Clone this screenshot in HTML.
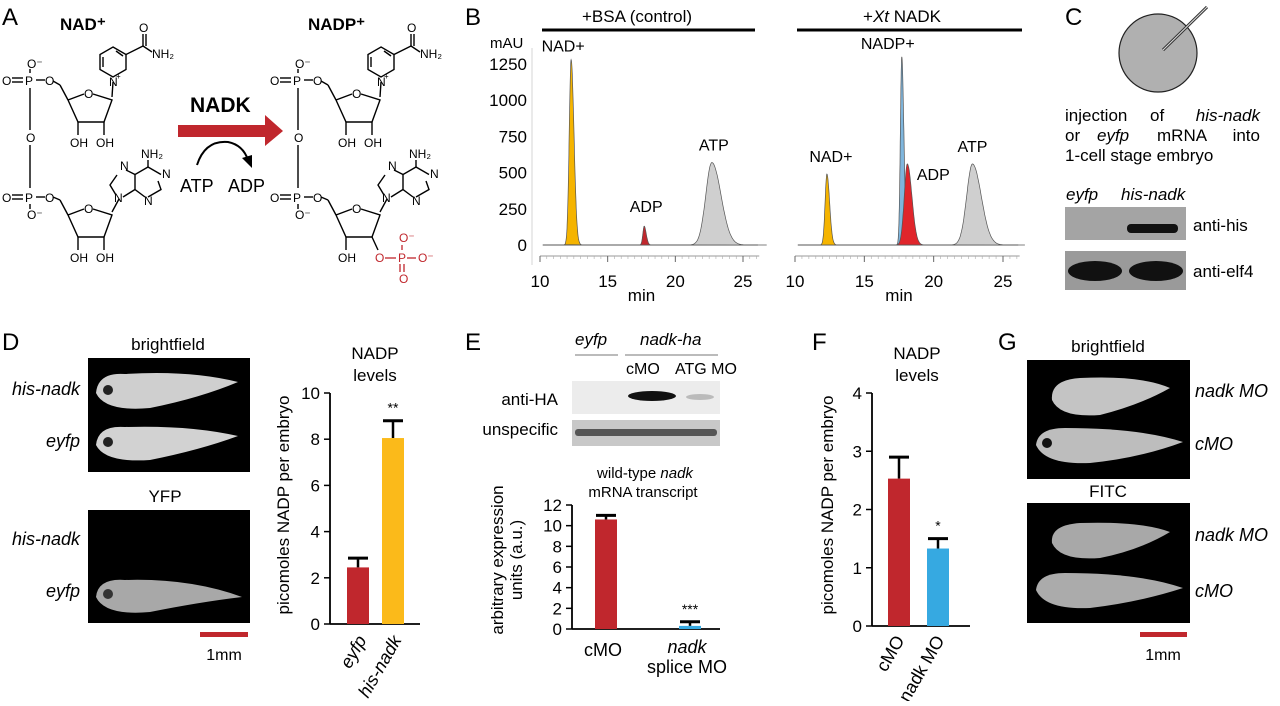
<!DOCTYPE html>
<html><head><meta charset="utf-8">
<style>
body{margin:0;background:#fff;width:1280px;height:701px;overflow:hidden;font-family:"Liberation Sans",sans-serif}
svg text{font-family:"Liberation Sans",sans-serif}
</style></head>
<body>
<svg id="fig" width="1280" height="701" viewBox="0 0 1280 701" xmlns="http://www.w3.org/2000/svg">
<defs>
<g id="molShape" stroke="#000" stroke-width="1.4" fill="none">
<polygon points="113,47 126,54.5 126,69.5 113,77 100,69.5 100,54.5"/>
<line x1="116" y1="51" x2="123" y2="56"/><line x1="103" y1="57" x2="103" y2="67"/>
<line x1="126" y1="54.5" x2="143" y2="46"/><line x1="143" y1="46" x2="143" y2="34"/><line x1="146" y1="46" x2="146" y2="34"/>
<line x1="143" y1="46" x2="152" y2="52"/>
<line x1="113" y1="82" x2="112" y2="97"/>
<polyline points="68,100 84,94"/><polyline points="93,94 112,100 104,122 78,122 68,100"/>
<line x1="78" y1="122" x2="78" y2="135"/><line x1="104" y1="122" x2="104" y2="135"/>
<line x1="68" y1="100" x2="60" y2="85"/><line x1="60" y1="85" x2="53" y2="81"/>
<line x1="36" y1="80" x2="45" y2="80"/>
<line x1="30" y1="69" x2="30" y2="73"/>
<line x1="30" y1="88" x2="30" y2="130"/><line x1="30" y1="145" x2="30" y2="188"/>
<line x1="36" y1="197" x2="45" y2="197"/>
<line x1="30" y1="204" x2="30" y2="209"/>
<line x1="12" y1="78" x2="23" y2="78"/><line x1="12" y1="82" x2="23" y2="82"/>
<line x1="12" y1="195" x2="23" y2="195"/><line x1="12" y1="199" x2="23" y2="199"/>
<polyline points="68,215 84,209"/><polyline points="93,209 112,215 104,237 78,237 68,215"/>
<line x1="78" y1="237" x2="78" y2="250"/>
<line x1="68" y1="215" x2="60" y2="200"/><line x1="60" y1="200" x2="53" y2="197"/>
<polyline points="148,167 161,174.5"/><polyline points="158,181 161,189.5 148,197"/><polyline points="145,197 135,189.5 135,174.5 148,167"/>
<line x1="148" y1="167" x2="148" y2="160"/>
<polyline points="135,174.5 126,170"/><polyline points="117,175 110,185 116,195"/><line x1="123" y1="197" x2="135" y2="189.5"/>
<line x1="119" y1="199" x2="112" y2="212"/>
</g>
</defs>
<!-- Panel labels -->
<g font-size="24" fill="#000">
<text x="2" y="25">A</text><text x="465" y="25">B</text><text x="1065" y="25">C</text>
<text x="2" y="350">D</text><text x="465" y="350">E</text><text x="812" y="350">F</text><text x="998" y="350">G</text>
</g>
<!-- Panel A -->
<g>
<use href="#molShape"/>
<line x1="104" y1="237" x2="104" y2="250" stroke="#000" stroke-width="1.4"/>
<g font-size="12" fill="#000">
<text x="60" y="30" font-size="17" font-weight="bold">NAD⁺</text>
<text x="109" y="86">N</text><text x="116" y="79" font-size="8">+</text>
<text x="139" y="32">O</text><text x="152" y="58">NH₂</text>
<text x="84" y="98">O</text><text x="84" y="213">O</text>
<text x="70" y="147">OH</text><text x="96" y="147">OH</text>
<text x="70" y="262">OH</text><text x="96" y="262">OH</text>
<text x="2" y="85">O</text><text x="25" y="85">P</text><text x="45" y="85">O</text><text x="27" y="68">O⁻</text>
<text x="26" y="142">O</text>
<text x="2" y="202">O</text><text x="25" y="202">P</text><text x="45" y="202">O</text><text x="27" y="219">O⁻</text>
<text x="141" y="158">NH₂</text><text x="162" y="178">N</text><text x="144" y="205">N</text>
<text x="120" y="170">N</text><text x="114" y="202">N</text>
</g>
</g>
<g transform="translate(268,0)">
<use href="#molShape"/>
<line x1="104" y1="237" x2="110" y2="250" stroke="#000" stroke-width="1.4"/>
<g font-size="12" fill="#000">
<text x="40" y="30" font-size="17" font-weight="bold">NADP⁺</text>
<text x="109" y="86">N</text><text x="116" y="79" font-size="8">+</text>
<text x="139" y="32">O</text><text x="152" y="58">NH₂</text>
<text x="84" y="98">O</text><text x="84" y="213">O</text>
<text x="70" y="147">OH</text><text x="96" y="147">OH</text>
<text x="70" y="262">OH</text>
<text x="2" y="85">O</text><text x="25" y="85">P</text><text x="45" y="85">O</text><text x="27" y="68">O⁻</text>
<text x="26" y="142">O</text>
<text x="2" y="202">O</text><text x="25" y="202">P</text><text x="45" y="202">O</text><text x="27" y="219">O⁻</text>
<text x="141" y="158">NH₂</text><text x="162" y="178">N</text><text x="144" y="205">N</text>
<text x="120" y="170">N</text><text x="114" y="202">N</text>
</g>
<g fill="#c0272d" font-size="12">
<text x="107" y="262">O</text><text x="130" y="262">P</text><text x="150" y="262">O⁻</text>
<text x="131" y="242">O⁻</text><text x="131" y="283">O</text>
</g>
<g stroke="#c0272d" stroke-width="1.3">
<line x1="117" y1="258" x2="128" y2="258"/><line x1="139" y1="258" x2="148" y2="258"/>
<line x1="134" y1="245" x2="134" y2="250"/><line x1="132" y1="264" x2="132" y2="272"/><line x1="136" y1="264" x2="136" y2="272"/>
</g>
</g>
<text x="190" y="112" font-size="21" font-weight="bold">NADK</text>
<polygon points="178,125 265,125 265,115 283,131 265,146 265,137 178,137" fill="#c0272d"/>
<path d="M197,165 Q205,140 228,142 Q243,145 248,160" fill="none" stroke="#000" stroke-width="2"/>
<polygon points="242,158 252,168 252,155" fill="#000"/>
<text x="180" y="192" font-size="18">ATP</text>
<text x="228" y="192" font-size="18">ADP</text>

<!-- Panel B headers -->
<g>
<text x="582" y="22" font-size="17">+BSA (control)</text>
<line x1="542" y1="30" x2="755" y2="30" stroke="#000" stroke-width="3"/>
<text x="863" y="22" font-size="17">+<tspan font-style="italic">Xt</tspan> NADK</text>
<line x1="797" y1="30" x2="1022" y2="30" stroke="#000" stroke-width="3"/>
<text x="490" y="48" font-size="15">mAU</text>
</g>
<g id="chromL"></g>
<g id="chromR"></g>

<!-- Panel C -->
<g>
<circle cx="1158" cy="53" r="39" fill="#b0b0b0" stroke="#222" stroke-width="1.2"/>
<line x1="1163" y1="50" x2="1207" y2="7" stroke="#333" stroke-width="3"/>
<line x1="1163" y1="50" x2="1207" y2="7" stroke="#ddd" stroke-width="1"/>
<text x="1065" y="121" font-size="17">injection</text>
<text x="1150" y="121" font-size="17">of</text>
<text x="1260" y="121" font-size="17" font-style="italic" text-anchor="end">his-nadk</text>
<text x="1065" y="141" font-size="17">or</text>
<text x="1097" y="141" font-size="17" font-style="italic">eyfp</text>
<text x="1157" y="141" font-size="17">mRNA</text>
<text x="1260" y="141" font-size="17" text-anchor="end">into</text>
<text x="1065" y="161" font-size="17">1-cell stage embryo</text>
<text x="1066" y="200" font-size="17" font-style="italic">eyfp</text>
<text x="1121" y="200" font-size="17" font-style="italic">his-nadk</text>
<rect x="1065" y="207" width="121" height="33" fill="#a4a4a4"/>
<rect x="1127" y="224" width="51" height="9" rx="4" fill="#111"/>
<rect x="1065" y="251" width="121" height="39" fill="#9a9a9a"/>
<ellipse cx="1095" cy="271" rx="27" ry="10" fill="#111"/><ellipse cx="1156" cy="271" rx="27" ry="10" fill="#111"/>
<text x="1193" y="231" font-size="17">anti-his</text>
<text x="1193" y="277" font-size="17">anti-elf4</text>
</g>

<!-- Panel D -->
<g>
<text x="168" y="350" font-size="17" text-anchor="middle">brightfield</text>
<rect x="88" y="358" width="162" height="114" fill="#000"/>
<path d="M96,393 Q98,372 125,374 Q190,370 238,382 Q200,398 150,408 Q105,412 96,393Z" fill="#cfcfcf"/>
<circle cx="108" cy="390" r="5" fill="#222"/>
<path d="M96,445 Q98,425 125,427 Q190,425 238,436 Q200,450 150,460 Q105,463 96,445Z" fill="#d2d2d2"/>
<circle cx="108" cy="442" r="5" fill="#222"/>
<text x="80" y="395" font-size="18" font-style="italic" text-anchor="end">his-nadk</text>
<text x="80" y="447" font-size="18" font-style="italic" text-anchor="end">eyfp</text>
<text x="165" y="502" font-size="17" text-anchor="middle">YFP</text>
<rect x="88" y="510" width="162" height="113" fill="#000"/>
<path d="M96,597 Q98,578 125,580 Q190,578 242,597 Q200,602 150,612 Q105,616 96,597Z" fill="#a8a8a8"/>
<circle cx="108" cy="594" r="5" fill="#333"/>
<text x="80" y="545" font-size="18" font-style="italic" text-anchor="end">his-nadk</text>
<text x="80" y="597" font-size="18" font-style="italic" text-anchor="end">eyfp</text>
<rect x="200" y="632" width="48" height="5" fill="#c0272d"/>
<text x="224" y="660" font-size="16" text-anchor="middle">1mm</text>
</g>
<g id="chartD"></g>

<!-- Panel E -->
<g>
<text x="575" y="345" font-size="17" font-style="italic">eyfp</text>
<line x1="575" y1="355" x2="618" y2="355" stroke="#777"/>
<text x="640" y="345" font-size="17" font-style="italic">nadk-ha</text>
<line x1="625" y1="355" x2="718" y2="355" stroke="#777"/>
<text x="626" y="374" font-size="16">cMO</text><text x="675" y="374" font-size="16">ATG MO</text>
<rect x="572" y="381" width="148" height="33" fill="#ececec"/>
<ellipse cx="652" cy="396" rx="24" ry="5" fill="#111"/><ellipse cx="700" cy="397" rx="14" ry="3" fill="#bbb"/>
<rect x="572" y="420" width="148" height="26" fill="#c8c8c8"/>
<rect x="575" y="429" width="142" height="7" rx="3" fill="#555"/>
<text x="558" y="405" font-size="17" text-anchor="end">anti-HA</text>
<text x="558" y="435" font-size="17" text-anchor="end">unspecific</text>
<text x="645" y="478" font-size="15" text-anchor="middle">wild-type <tspan font-style="italic">nadk</tspan></text>
<text x="643" y="497" font-size="15" text-anchor="middle">mRNA transcript</text>
</g>
<g id="chartE"></g>

<!-- Panel F -->
<g>
<text x="917" y="359" font-size="17" text-anchor="middle">NADP</text><text x="917" y="381" font-size="17" text-anchor="middle">levels</text>
</g>
<g id="chartF"></g>

<!-- Panel G -->
<g>
<text x="1108" y="352" font-size="17" text-anchor="middle">brightfield</text>
<rect x="1027" y="360" width="163" height="119" fill="#000"/>
<path d="M1052,400 Q1050,380 1080,378 Q1140,375 1170,388 Q1140,405 1100,415 Q1060,418 1052,400Z" fill="#c4c4c4"/>
<path d="M1036,445 Q1038,428 1065,428 Q1140,428 1183,442 Q1140,458 1090,463 Q1045,465 1036,445Z" fill="#bdbdbd"/>
<circle cx="1047" cy="443" r="5" fill="#111"/>
<text x="1195" y="397" font-size="18" font-style="italic">nadk MO</text>
<text x="1195" y="450" font-size="18" font-style="italic">cMO</text>
<text x="1108" y="497" font-size="17" text-anchor="middle">FITC</text>
<rect x="1027" y="503" width="163" height="120" fill="#000"/>
<path d="M1052,543 Q1050,525 1080,523 Q1140,521 1170,532 Q1140,550 1100,558 Q1060,561 1052,543Z" fill="#a8a8a8"/>
<path d="M1036,590 Q1038,573 1065,573 Q1140,573 1183,588 Q1140,602 1090,608 Q1045,610 1036,590Z" fill="#ababab"/>
<text x="1195" y="541" font-size="18" font-style="italic">nadk MO</text>
<text x="1195" y="597" font-size="18" font-style="italic">cMO</text>
<rect x="1140" y="632" width="47" height="5" fill="#c0272d"/>
<text x="1163" y="660" font-size="16" text-anchor="middle">1mm</text>
</g>
</svg>
<script>
// ===== Chromatogram data =====
const chromTicks = [10, 15, 20, 25];
const chromYTicks = [0, 250, 500, 750, 1000, 1250];
const ctrlPeakNames = ["NAD+", "ADP", "ATP"];
const ctrlPeakTimes = [12.3, 17.7, 22.7];
const ctrlPeakHeights = [1280, 130, 570];
const ctrlPeakWidths = [0.14, 0.1, 0.45];
const ctrlPeakColors = ["#f5b400", "#c0272d", "#cfcfcf"];
const nadkPeakNames = ["NAD+", "NADP+", "ADP", "ATP"];
const nadkPeakTimes = [12.3, 17.7, 18.1, 22.8];
const nadkPeakHeights = [490, 1300, 560, 560];
const nadkPeakWidths = [0.13, 0.1, 0.22, 0.42];
const nadkPeakColors = ["#f5b400", "#7fb6dd", "#e0252b", "#cfcfcf"];

// ===== Bar chart data =====
const dCats = ["eyfp", "his-nadk"];
const dVals = [2.45, 8.05];
const dErr = [0.4, 0.75];
const dTicks = [0, 2, 4, 6, 8, 10];
const eCats = ["cMO", "nadk splice MO"];
const eVals = [10.6, 0.3];
const eErr = [0.4, 0.4];
const eTicks = [0, 2, 4, 6, 8, 10, 12];
const fCats = ["cMO", "nadk MO"];
const fVals = [2.53, 1.33];
const fErr = [0.37, 0.17];
const fTicks = [0, 1, 2, 3, 4];

const NS = "http://www.w3.org/2000/svg";
function mk(parent, tag, attrs, txt){
  const e = document.createElementNS(NS, tag);
  for (const k in attrs) e.setAttribute(k, attrs[k]);
  if (txt !== undefined) e.textContent = txt;
  parent.appendChild(e);
  return e;
}

function drawChrom(gid, x0, x1, names, times, heights, widths, colors, showY, labDx, labDy){
  const g = document.getElementById(gid);
  const y0 = 245, yTop = 64;
  const sx = t => x0 + (t - 10) / 15 * (x1 - x0);
  const sy = v => y0 - v / 1250 * (y0 - yTop);
  const ax = mk(g, "line", {x1: sx(10), y1: y0+11, x2: sx(26.2), y2: y0+11, stroke: "#999"});
  
  
  for (let t = 10; t <= 26; t += 0.5) mk(g, "line", {x1: sx(t), y1: y0+11, x2: sx(t), y2: y0+14, stroke: "#aaa", "stroke-width": 0.6});
  chromTicks.forEach(t => {
    mk(g, "line", {x1: sx(t), y1: y0+11, x2: sx(t), y2: y0+17, stroke: "#666"});
    const tl = mk(g, "text", {x: sx(t), y: y0+42, "font-size": 17, "text-anchor": "middle"}, t);
    
    
  });
  mk(g, "text", {x: sx(17.5), y: y0+56, "font-size": 17, "text-anchor": "middle"}, "min");
  if (showY){
    mk(g, "line", {x1: x0-8, y1: yTop-16, x2: x0-8, y2: y0+20, stroke: "#ccc", "stroke-width": 0.8});
    chromYTicks.forEach(v => {
      const yl = mk(g, "text", {x: x0-13, y: sy(v)+6, "font-size": 17, "text-anchor": "end"}, v);
      
      
    });
  }
  mk(g, "line", {x1: sx(10.2), y1: y0, x2: sx(26.1), y2: y0, stroke: "#555", "stroke-width": 0.9});
  times.forEach((t, i) => {
    let d = "";
    for (let k = -3.5; k <= 6; k += 0.1){
      const w = k < 0 ? widths[i] : widths[i] * 1.5;
      const tt = t + k * w;
      const v = heights[i] * Math.exp(-k*k/2);
      d += (d ? "L" : "M") + sx(tt).toFixed(1) + "," + sy(v).toFixed(1);
    }
    const p = mk(g, "path", {d: d + "Z", fill: colors[i], stroke: "#555", "stroke-width": 0.7});
    
    
    const lab = mk(g, "text", {x: sx(t) + labDx[i], y: sy(heights[i]) - 8 + labDy[i], "font-size": 16, "text-anchor": "middle"}, names[i]);
    
    
  });
}
drawChrom("chromL", 540, 743, ctrlPeakNames, ctrlPeakTimes, ctrlPeakHeights, ctrlPeakWidths, ctrlPeakColors, true, [-8, 2, 2], [0, -6, -4]);
drawChrom("chromR", 795, 1003, nadkPeakNames, nadkPeakTimes, nadkPeakHeights, nadkPeakWidths, nadkPeakColors, false, [4, -14, 26, 0], [-4, 0, 24, -4]);

function drawBars(gid, axX, y0, yTop, ymax, ticks, vals, errs, barXs, barW, colors, stars, axEnd){
  const g = document.getElementById(gid);
  const sy = v => y0 - v / ymax * (y0 - yTop);
  const ya = mk(g, "line", {x1: axX, y1: sy(ymax), x2: axX, y2: y0, stroke: "#000", "stroke-width": 1.8});
  
  
  mk(g, "line", {x1: axX, y1: y0, x2: axEnd, y2: y0, stroke: "#000", "stroke-width": 1.8});
  ticks.forEach(t => {
    mk(g, "line", {x1: axX-6, y1: sy(t), x2: axX, y2: sy(t), stroke: "#000", "stroke-width": 1.5});
    const tl = mk(g, "text", {x: axX-10, y: sy(t)+6, "font-size": 17, "text-anchor": "end"}, t);
    
    
  });
  vals.forEach((v, i) => {
    const cx = barXs[i] + barW/2;
    mk(g, "line", {x1: cx, y1: sy(v), x2: cx, y2: sy(v+errs[i]), stroke: "#000", "stroke-width": 2.5});
    mk(g, "line", {x1: cx-10, y1: sy(v+errs[i]), x2: cx+10, y2: sy(v+errs[i]), stroke: "#000", "stroke-width": 3});
    const b = mk(g, "rect", {x: barXs[i], y: sy(v), width: barW, height: y0 - sy(v), fill: colors[i]});
    
    
    if (stars[i]) mk(g, "text", {x: cx, y: sy(v+errs[i]) - 8, "font-size": 14, "text-anchor": "middle"}, stars[i]);
  });
  return sy;
}

// D
drawBars("chartD", 330, 624, 393, 10, dTicks, dVals, dErr, [347, 382], 22, ["#c0272d", "#fbba1a"], ["", "**"], 420);
(function(){
  const g = document.getElementById("chartD");
  mk(g, "text", {x: 375, y: 359, "font-size": 17, "text-anchor": "middle"}, "NADP");
  mk(g, "text", {x: 375, y: 381, "font-size": 17, "text-anchor": "middle"}, "levels");
  mk(g, "text", {transform: "translate(289,505) rotate(-90)", "font-size": 17, "text-anchor": "middle"}, "picomoles NADP per embryo");
  mk(g, "text", {transform: "translate(367,640) rotate(-60)", "font-size": 18, "font-style": "italic", "text-anchor": "end"}, dCats[0]);
  mk(g, "text", {transform: "translate(402,640) rotate(-60)", "font-size": 18, "font-style": "italic", "text-anchor": "end"}, dCats[1]);
})();
// E
drawBars("chartE", 572, 629, 505, 12, eTicks, eVals, eErr, [595, 679], 22, ["#c0272d", "#36a9e1"], ["", "***"], 720);
(function(){
  const g = document.getElementById("chartE");
  mk(g, "text", {transform: "translate(503,560) rotate(-90)", "font-size": 17, "text-anchor": "middle"}, "arbitrary expression");
  mk(g, "text", {transform: "translate(522,560) rotate(-90)", "font-size": 17, "text-anchor": "middle"}, "units (a.u.)");
  mk(g, "text", {x: 603, y: 656, "font-size": 18, "text-anchor": "middle"}, eCats[0]);
  mk(g, "text", {x: 687, y: 653, "font-size": 18, "text-anchor": "middle", "font-style": "italic"}, "nadk");
  mk(g, "text", {x: 687, y: 673, "font-size": 18, "text-anchor": "middle"}, "splice MO");
})();
// F
drawBars("chartF", 872, 626, 393, 4, fTicks, fVals, fErr, [888, 927], 22, ["#c0272d", "#36a9e1"], ["", "*"], 970);
(function(){
  const g = document.getElementById("chartF");
  mk(g, "text", {transform: "translate(833,505) rotate(-90)", "font-size": 17, "text-anchor": "middle"}, "picomoles NADP per embryo");
  mk(g, "text", {transform: "translate(905,640) rotate(-60)", "font-size": 18, "text-anchor": "end"}, fCats[0]);
  mk(g, "text", {transform: "translate(945,640) rotate(-60)", "font-size": 18, "text-anchor": "end"}, "nadk MO");
})();
</script>
</body></html>
